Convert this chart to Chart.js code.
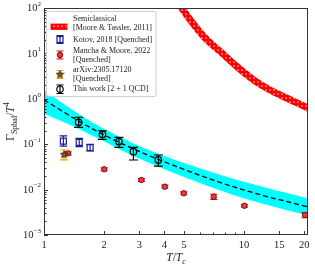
<!DOCTYPE html>
<html>
<head>
<meta charset="utf-8">
<script src="https://cdn.jsdelivr.net/npm/chart.js@4.4.0/dist/chart.umd.min.js"></script>
<style>
html, body { margin: 0; padding: 0; background: #fff; }
#wrap { width: 315px; height: 268px; }
</style>
</head>
<body>
<div id="wrap"><canvas id="sphaleronChart" width="315" height="268"></canvas></div>
<script>
// semiclassical curve [Moore & Tassler]
const semiT = [4.6, 4.88, 6.30, 7.62, 9.24, 11.2, 13.5, 16.4, 21.0];
const semiRate = [150, 100, 23.3, 10.9, 5.09, 2.59, 1.56, 1.03, 0.62];

// this work: fit band and central (dashed) curve
const bandT = [1, 1.5, 2, 2.8, 3.73, 5.4, 8.55, 14.1, 20.9];
const bandUpper = [1.55, 0.459, 0.217, 0.104, 0.0618, 0.0343, 0.018, 0.0099, 0.0064];
const bandLower = [0.47, 0.217, 0.115, 0.055, 0.0318, 0.0167, 0.008, 0.00417, 0.0027];
const fitT = [1, 1.5, 2, 2.8, 3.73, 5, 6.55, 8.55, 10, 12.5, 15, 21];
const fitRate = [0.95, 0.318, 0.160, 0.0787, 0.0462, 0.028, 0.0181, 0.0121, 0.0098, 0.0074, 0.0060, 0.00415];

// Kotov 2018
const kotovT = [1.25, 1.50, 1.70];
const kotovRate = [0.117, 0.110, 0.0837];
const kotovLow = [0.091, 0.088, 0.0708];
const kotovHigh = [0.152, 0.135, 0.0995];

// Mancha & Moore 2022
const manchaT = [1.32, 2, 3.07, 4.02, 5.0, 7.06, 10.05, 20.2];
const manchaRate = [0.063, 0.028, 0.0163, 0.0116, 0.0083, 0.0070, 0.0044, 0.00275];
const manchaLow = [0.058, 0.026, 0.0151, 0.0107, 0.0077, 0.0061, 0.0041, 0.0024];
const manchaHigh = [0.068, 0.030, 0.0175, 0.0125, 0.0089, 0.0079, 0.0047, 0.0031];

// arXiv:2305.17120
const arxivT = [1.26];
const arxivRate = [0.060];
const arxivLow = [0.045];
const arxivHigh = [0.0745];

// this work lattice points
const workT = [1.49, 1.96, 2.37, 2.80, 3.73];
const workRate = [0.303, 0.165, 0.114, 0.0684, 0.0449];
const workLow = [0.235, 0.128, 0.0855, 0.0449, 0.033];
const workHigh = [0.392, 0.198, 0.142, 0.0855, 0.0578];

const xTicks = [1, 2, 3, 4, 5, 10, 15, 20];
const xMinorTicks = [6, 7, 8, 9];
const yExponents = [-3, -2, -1, 0, 1, 2];

const SERIF = '"Liberation Serif", "DejaVu Serif", serif';

const canvas = document.getElementById('sphaleronChart');
const ctx0 = canvas.getContext('2d');

// red hatched pattern for the semiclassical band
const patCanvas = document.createElement('canvas');
patCanvas.width = 4; patCanvas.height = 4;
const pg = patCanvas.getContext('2d');
pg.fillStyle = '#ff0000';
pg.fillRect(0, 0, 4, 4);
pg.fillStyle = '#ffc4c4';
pg.beginPath(); pg.arc(2, 2, 0.85, 0, Math.PI * 2); pg.fill();
const semiPattern = ctx0.createPattern(patCanvas, 'repeat');

function starPath(ctx, x, y, r) {
    ctx.beginPath();
    for (let i = 0; i < 10; i++) {
        const rr = i % 2 === 0 ? r : r * 0.45;
        const a = -Math.PI / 2 + i * Math.PI / 5;
        const px = x + rr * Math.cos(a), py = y + rr * Math.sin(a);
        if (i === 0) ctx.moveTo(px, py); else ctx.lineTo(px, py);
    }
    ctx.closePath();
}

const starCanvas = document.createElement('canvas');
starCanvas.width = 9; starCanvas.height = 9;
const sg = starCanvas.getContext('2d');
starPath(sg, 4.5, 4.8, 4);
sg.fillStyle = '#8a5a00';
sg.fill();
sg.strokeStyle = '#1a1a1a';
sg.lineWidth = 0.8;
sg.stroke();

function pts(xs, ys) {
    return xs.map((x, i) => ({x: x, y: ys[i]}));
}

function drawErrBar(ctx, x, yTop, yBot, cap, color, lw) {
    ctx.save();
    ctx.strokeStyle = color;
    ctx.lineWidth = lw;
    ctx.beginPath();
    ctx.moveTo(x, yTop); ctx.lineTo(x, yBot);
    ctx.moveTo(x - cap, yTop); ctx.lineTo(x + cap, yTop);
    ctx.moveTo(x - cap, yBot); ctx.lineTo(x + cap, yBot);
    ctx.stroke();
    ctx.restore();
}

// text pieces (for sub/superscripts)
function richWidth(ctx, parts) {
    let w = 0;
    parts.forEach(p => {
        ctx.font = (p.italic ? 'italic ' : '') + p.size + 'px ' + SERIF;
        w += ctx.measureText(p.t).width;
    });
    return w;
}

function drawRich(ctx, parts, x, y) {
    let cx = x;
    parts.forEach(p => {
        ctx.font = (p.italic ? 'italic ' : '') + p.size + 'px ' + SERIF;
        ctx.fillText(p.t, cx, y + (p.dy || 0));
        cx += ctx.measureText(p.t).width;
    });
}

const errorBarPlugin = {
    id: 'errorBars',
    beforeDatasetDraw(chart, args) {
        const ds = chart.data.datasets[args.index];
        if (!ds.errLow) return;
        const ctx = chart.ctx;
        const yScale = chart.scales.y;
        ctx.save();
        ctx.beginPath();
        ctx.rect(chart.chartArea.left, chart.chartArea.top, chart.chartArea.width, chart.chartArea.height);
        ctx.clip();
        args.meta.data.forEach((el, i) => {
            drawErrBar(ctx, el.x, yScale.getPixelForValue(ds.errHigh[i]),
                yScale.getPixelForValue(ds.errLow[i]), ds.errCap, ds.errColor, 1.2);
        });
        ctx.restore();
    }
};

const framePlugin = {
    id: 'frameTicks',
    afterDatasetsDraw(chart) {
        const ctx = chart.ctx;
        const a = chart.chartArea;
        const xs = chart.scales.x, ys = chart.scales.y;
        ctx.save();
        ctx.strokeStyle = '#333';
        ctx.lineWidth = 1;
        ctx.strokeRect(a.left + 0.5, a.top + 0.5, a.width - 1, a.height - 1);

        ctx.beginPath();
        xTicks.forEach(v => {
            const px = Math.round(xs.getPixelForValue(v)) + 0.5;
            ctx.moveTo(px, a.bottom); ctx.lineTo(px, a.bottom - 4);
        });
        xMinorTicks.forEach(v => {
            const px = Math.round(xs.getPixelForValue(v)) + 0.5;
            ctx.moveTo(px, a.bottom); ctx.lineTo(px, a.bottom - 2.5);
        });
        yExponents.forEach(e => {
            const py = Math.round(ys.getPixelForValue(Math.pow(10, e))) + 0.5;
            ctx.moveTo(a.left, py); ctx.lineTo(a.left + 4, py);
            if (e < 2) {
                for (let m = 2; m <= 9; m++) {
                    const my = Math.round(ys.getPixelForValue(m * Math.pow(10, e))) + 0.5;
                    ctx.moveTo(a.left, my); ctx.lineTo(a.left + 2.5, my);
                }
            }
        });
        ctx.stroke();

        // y tick labels 10^n
        ctx.fillStyle = '#222';
        ctx.textBaseline = 'middle';
        yExponents.forEach(e => {
            const py = ys.getPixelForValue(Math.pow(10, e));
            const expText = e < 0 ? '\u2212' + (-e) : String(e);
            ctx.font = '7px ' + SERIF;
            const ew = ctx.measureText(expText).width;
            ctx.textAlign = 'right';
            ctx.fillText(expText, a.left - 3, py - 4);
            ctx.font = '10.5px ' + SERIF;
            ctx.fillText('10', a.left - 3 - ew, py + 0.5);
        });

        // axis titles
        ctx.textAlign = 'left';
        ctx.textBaseline = 'alphabetic';
        const xTitle = [
            {t: 'T', size: 11.5, italic: true},
            {t: '/', size: 11.5},
            {t: 'T', size: 11.5, italic: true},
            {t: 'c', size: 8, italic: true, dy: 2.5}
        ];
        const xw = richWidth(ctx, xTitle);
        drawRich(ctx, xTitle, (a.left + a.right) / 2 - xw / 2, 261);

        const yTitle = [
            {t: '\u0393', size: 11.5},
            {t: 'Sphal', size: 8, dy: 2.5},
            {t: '/', size: 11.5},
            {t: 'T', size: 11.5, italic: true},
            {t: '4', size: 8, dy: -5}
        ];
        const yw = richWidth(ctx, yTitle);
        ctx.save();
        ctx.translate(14, (a.top + a.bottom) / 2);
        ctx.rotate(-Math.PI / 2);
        drawRich(ctx, yTitle, -yw / 2, 0);
        ctx.restore();
        ctx.restore();
    }
};

const legendPlugin = {
    id: 'customLegend',
    afterDraw(chart) {
        const ctx = chart.ctx;
        ctx.save();
        const bx = 46.5, by = 11.5, bw = 109.5, bh = 85;
        ctx.fillStyle = 'rgba(255,255,255,0.85)';
        ctx.strokeStyle = '#cccccc';
        ctx.lineWidth = 1;
        ctx.beginPath();
        ctx.roundRect(bx, by, bw, bh, 2);
        ctx.fill();
        ctx.stroke();

        const mx = 60;
        // semiclassical patch
        ctx.fillStyle = semiPattern;
        ctx.fillRect(51, 24, 16, 5.5);
        ctx.strokeStyle = '#ff0000';
        ctx.lineWidth = 0.8;
        ctx.strokeRect(51, 24, 16, 5.5);

        // Kotov
        drawErrBar(ctx, mx, 35.5, 43.5, 3.5, '#1c1c96', 1.2);
        ctx.strokeStyle = '#1c1c96';
        ctx.lineWidth = 1.2;
        ctx.strokeRect(mx - 3, 36.5, 6, 6);

        // Mancha & Moore
        drawErrBar(ctx, mx, 51, 59, 3.5, '#ff0000', 1.2);
        ctx.beginPath(); ctx.arc(mx, 55, 2.8, 0, Math.PI * 2);
        ctx.fillStyle = '#ff3030'; ctx.fill();
        ctx.strokeStyle = '#552222'; ctx.lineWidth = 1; ctx.stroke();

        // arXiv
        drawErrBar(ctx, mx, 70.5, 78.5, 3.5, '#ffa500', 1.2);
        ctx.drawImage(starCanvas, mx - 4.5, 74.5 - 4.8);

        // this work
        drawErrBar(ctx, mx, 85, 93.5, 3.5, '#000', 1.2);
        ctx.beginPath(); ctx.arc(mx, 89.2, 3.2, 0, Math.PI * 2);
        ctx.strokeStyle = '#000'; ctx.lineWidth = 1.2; ctx.stroke();

        ctx.fillStyle = '#222';
        ctx.font = '8px ' + SERIF;
        ctx.textAlign = 'left';
        ctx.textBaseline = 'middle';
        const tx = 73;
        ctx.fillText('Semiclassical', tx, 18.5);
        ctx.fillText('[Moore & Tassler, 2011]', tx, 27.5);
        ctx.fillText('Kotov, 2018 [Quenched]', tx, 39.5);
        ctx.fillText('Mancha & Moore, 2022', tx, 50.5);
        ctx.fillText('[Quenched]', tx, 60);
        ctx.fillText('arXiv:2305.17120', tx, 69.8);
        ctx.fillText('[Quenched]', tx, 78.8);
        ctx.fillText('This work [2 + 1 QCD]', tx, 89.2);
        ctx.restore();
    }
};

new Chart(canvas, {
    type: 'scatter',
    data: {
        datasets: [
            {
                label: 'This work [2 + 1 QCD]',
                data: pts(workT, workRate),
                pointStyle: 'circle',
                pointRadius: 3.3,
                pointBackgroundColor: 'rgba(0,0,0,0)',
                pointBorderColor: '#000',
                pointBorderWidth: 1.2,
                errLow: workLow, errHigh: workHigh, errColor: '#000', errCap: 4.5,
                order: 0
            },
            {
                label: 'arXiv:2305.17120 [Quenched]',
                data: pts(arxivT, arxivRate),
                pointStyle: starCanvas,
                errLow: arxivLow, errHigh: arxivHigh, errColor: '#ffa500', errCap: 4.3,
                order: 1
            },
            {
                label: 'Mancha & Moore, 2022 [Quenched]',
                data: pts(manchaT, manchaRate),
                pointStyle: 'circle',
                pointRadius: 2.7,
                pointBackgroundColor: '#ff3030',
                pointBorderColor: '#552222',
                pointBorderWidth: 1,
                errLow: manchaLow, errHigh: manchaHigh, errColor: '#ff0000', errCap: 3.5,
                order: 2
            },
            {
                label: 'Kotov, 2018 [Quenched]',
                data: pts(kotovT, kotovRate),
                pointStyle: 'rect',
                pointRadius: 4.2,
                pointBackgroundColor: 'rgba(0,0,0,0)',
                pointBorderColor: '#1c1c96',
                pointBorderWidth: 1.2,
                errLow: kotovLow, errHigh: kotovHigh, errColor: '#1c1c96', errCap: 3.8,
                order: 3
            },
            {
                label: 'Semiclassical [Moore & Tassler, 2011]',
                data: pts(semiT, semiRate),
                showLine: true,
                borderColor: semiPattern,
                borderWidth: 7,
                borderJoinStyle: 'round',
                pointRadius: 0,
                cubicInterpolationMode: 'monotone',
                clip: 0,
                order: 4
            },
            {
                label: 'fit',
                data: pts(fitT, fitRate),
                showLine: true,
                borderColor: '#000',
                borderWidth: 1.3,
                borderDash: [5, 3],
                pointRadius: 0,
                cubicInterpolationMode: 'monotone',
                clip: 0,
                order: 5
            },
            {
                label: 'band lower',
                data: pts(bandT, bandLower),
                showLine: true,
                borderWidth: 0,
                borderColor: 'rgba(0,0,0,0)',
                pointRadius: 0,
                cubicInterpolationMode: 'monotone',
                order: 6
            },
            {
                label: 'band upper',
                data: pts(bandT, bandUpper),
                showLine: true,
                borderWidth: 0,
                borderColor: 'rgba(0,0,0,0)',
                backgroundColor: '#00ffff',
                fill: '-1',
                pointRadius: 0,
                cubicInterpolationMode: 'monotone',
                order: 7
            }
        ]
    },
    options: {
        responsive: false,
        animation: false,
        devicePixelRatio: 1,
        events: [],
        layout: {padding: {left: 0, top: 8, right: 7, bottom: 0}},
        plugins: {
            legend: {display: false},
            tooltip: {enabled: false}
        },
        scales: {
            x: {
                type: 'logarithmic',
                min: 1,
                max: 20.9,
                grid: {display: false, drawTicks: false},
                border: {display: false},
                afterBuildTicks: scale => { scale.ticks = xTicks.map(v => ({value: v})); },
                afterFit: scale => { scale.height = 33; },
                ticks: {
                    autoSkip: false,
                    maxRotation: 0,
                    padding: 4,
                    color: '#222',
                    font: {family: SERIF, size: 10.5},
                    callback: v => String(v)
                }
            },
            y: {
                type: 'logarithmic',
                min: 1e-3,
                max: 1e2,
                grid: {display: false, drawTicks: false},
                border: {display: false},
                afterFit: scale => { scale.width = 44; },
                ticks: {display: false}
            }
        }
    },
    plugins: [errorBarPlugin, framePlugin, legendPlugin]
});
</script>
</body>
</html>
